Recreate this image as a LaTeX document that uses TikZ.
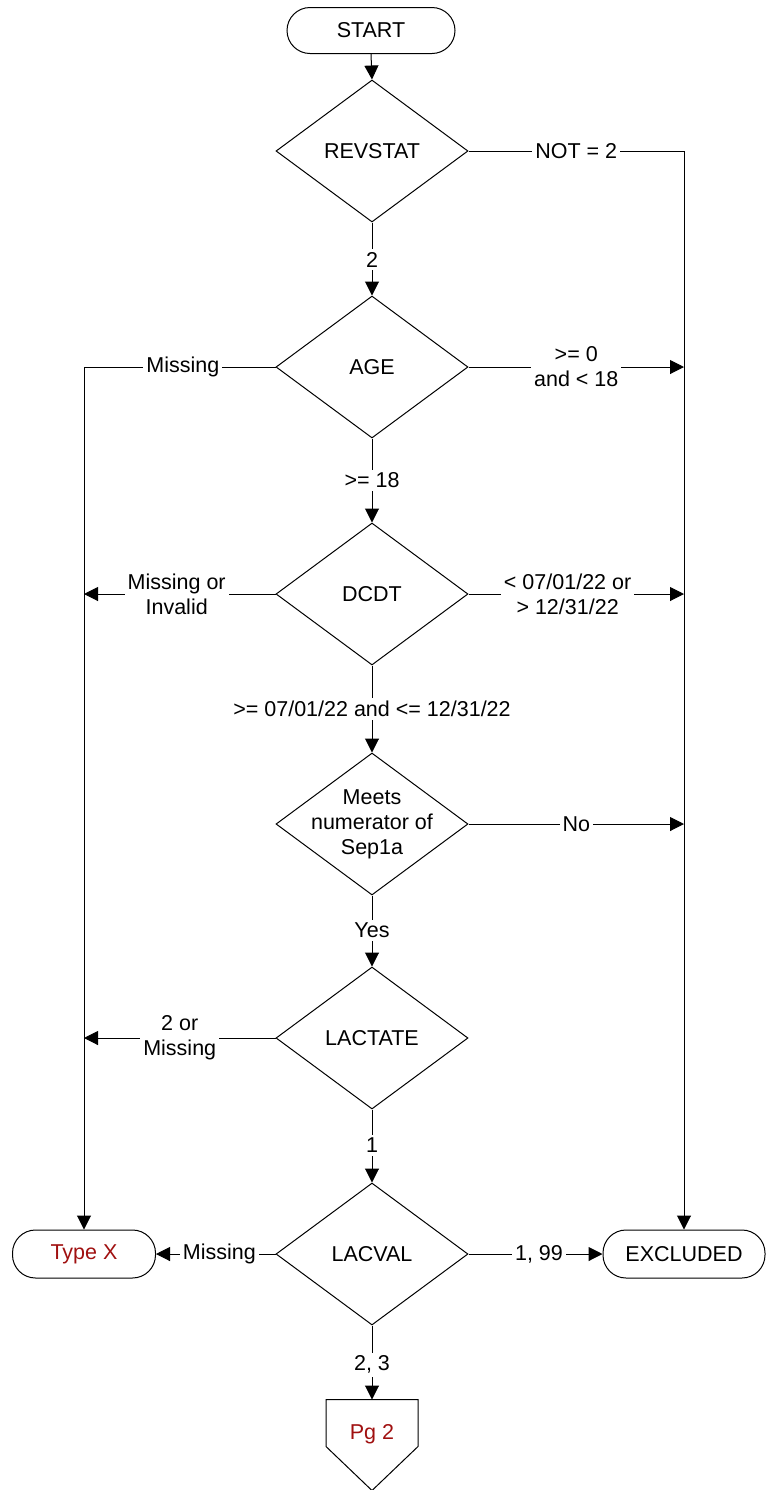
\documentclass[tikz,border=0pt]{standalone}
\usepackage{fontspec}
\setmainfont{Liberation Sans}
\usetikzlibrary{shapes.geometric,arrows.meta}
\definecolor{darkred}{RGB}{160,16,16}
\begin{document}
\begin{tikzpicture}[x=0.5pt,y=-0.5pt,
  font=\fontsize{10.75pt}{12.5pt}\selectfont,
  line width=0.5pt,
  every node/.style={line width=0.5pt},
  dia/.style={draw,shape=diamond,inner sep=0pt,minimum width=96pt,minimum height=71pt},
  term/.style={draw,rectangle,rounded corners=11.5pt,inner sep=0pt,minimum height=23pt},
  lbl/.style={fill=white,inner sep=1.5pt,align=center},
  arr/.style={-{Triangle[length=7pt,width=7pt]}},
  redtxt/.style={text=darkred}]
\useasboundingbox (0,0) rectangle (768,1490);
% nodes
\node[term,minimum width=84pt] (start) at (371,30.5) {START};
\node[dia,label=center:REVSTAT] (rev) at (372,151) {};
\node[dia,label=center:AGE] (age) at (372,367) {};
\node[dia,label=center:DCDT] (dcdt) at (372,594) {};
\node[dia,label={[align=center]center:Meets\\numerator of\\Sep1a}] (meets) at (372,824) {};
\node[dia,label=center:LACTATE] (lact) at (372,1038) {};
\node[dia,label=center:LACVAL] (lacval) at (372,1254) {};
\node[term,minimum width=71.5pt,minimum height=24pt,redtxt] (typex) at (84,1254) {Type X};
\node[term,minimum width=81pt,minimum height=24pt] (excl) at (684,1254) {EXCLUDED};
\node[rectangle,inner sep=0pt,minimum width=45.5pt,minimum height=23pt,
      label={[redtxt,yshift=-5.5pt]center:Pg 2}] (pg) at (372,1423) {};
\draw (pg.north west) -- (pg.north east) -- (pg.south east) -- ([yshift=-22pt]pg.south) -- (pg.south west) -- cycle;
% main vertical flow
\draw[arr] (start.south) -- (rev.north);
\draw[arr] (rev.south) -- node[lbl,pos=0.51]{2} (age.north);
\draw[arr] (age.south) -- node[lbl,pos=0.5]{>= 18} (dcdt.north);
\draw[arr] (dcdt.south) -- node[lbl,pos=0.5]{>= 07/01/22 and <= 12/31/22} (meets.north);
\draw[arr] (meets.south) -- node[lbl,pos=0.49]{Yes} (lact.north);
\draw[arr] (lact.south) -- node[lbl,pos=0.49]{1} (lacval.north);
\draw[arr] (lacval.south) -- node[lbl,pos=0.53]{2, 3} (pg.north);
% right column
\draw[arr] (rev.east) -- node[lbl,pos=0.5]{NOT = 2} (rev.east -| excl.north) -- (excl.north);
\draw[arr] (age.east) -- node[lbl,pos=0.5]{>= 0\\and < 18} (age.east -| excl.north);
\draw[arr] (dcdt.east) -- node[lbl,pos=0.46]{< 07/01/22 or\\> 12/31/22} (dcdt.east -| excl.north);
\draw[arr] (meets.east) -- node[lbl,pos=0.5]{No} (meets.east -| excl.north);
\draw[arr] (lacval.east) -- node[lbl,pos=0.526]{1, 99} (excl.west);
% left column
\draw[arr] (age.west) -- node[lbl,pos=0.484]{Missing} (age.west -| typex.north) -- (typex.north);
\draw[arr] (dcdt.west) -- node[lbl,pos=0.516]{Missing or\\Invalid} (dcdt.west -| typex.north);
\draw[arr] (lact.west) -- node[lbl,pos=0.5]{2 or\\Missing} (lact.west -| typex.north);
\draw[arr] (lacval.west) -- node[lbl,pos=0.47]{Missing} (typex.east);
\end{tikzpicture}
\end{document}
